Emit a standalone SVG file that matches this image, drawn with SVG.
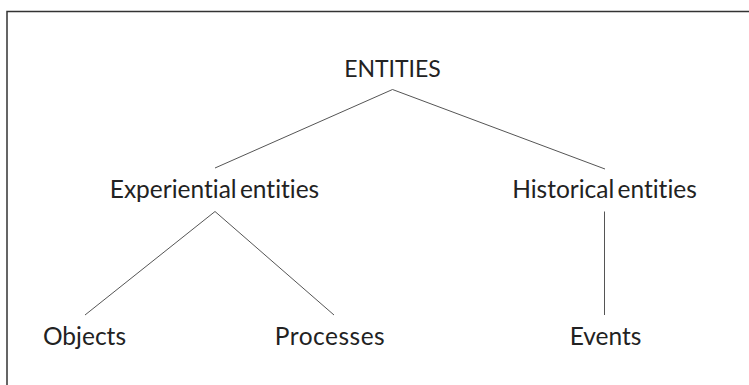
<svg xmlns="http://www.w3.org/2000/svg" width="749" height="385" viewBox="0 0 749 385">
<style>
.t{font-family:Lato,"Liberation Sans",sans-serif;font-size:24.5px;fill:#222;text-anchor:middle;font-variant-ligatures:none;font-feature-settings:"liga" 0}
.c line{stroke:#555;stroke-width:1}
</style>
<rect x="0" y="0" width="749" height="385" fill="#fff"/>
<path d="M7,385 V11.5 H749" fill="none" stroke="#333" stroke-width="1.5"/>
<g class="c" id="connectors">
<line x1="392.5" y1="89.5" x2="215" y2="168"/>
<line x1="392.5" y1="89.5" x2="605" y2="169"/>
<line x1="215" y1="211.5" x2="85" y2="315"/>
<line x1="215" y1="211.5" x2="334" y2="315"/>
<line x1="604.5" y1="211.5" x2="604.5" y2="315"/>
</g>
<g id="entities"><text class="t" x="392.5" y="77" style="font-size:23px">ENTITIES</text></g>
<g id="experiential"><text class="t" x="214.5" y="198" word-spacing="-3">Experiential entities</text></g>
<g id="historical"><text class="t" x="604.5" y="198" word-spacing="-3">Historical entities</text></g>
<g id="objects"><text class="t" x="84.5" y="345">Objects</text></g>
<g id="processes"><text class="t" x="330" y="345" letter-spacing="0.5">Processes</text></g>
<g id="events"><text class="t" x="605.5" y="345">Events</text></g>
</svg>
